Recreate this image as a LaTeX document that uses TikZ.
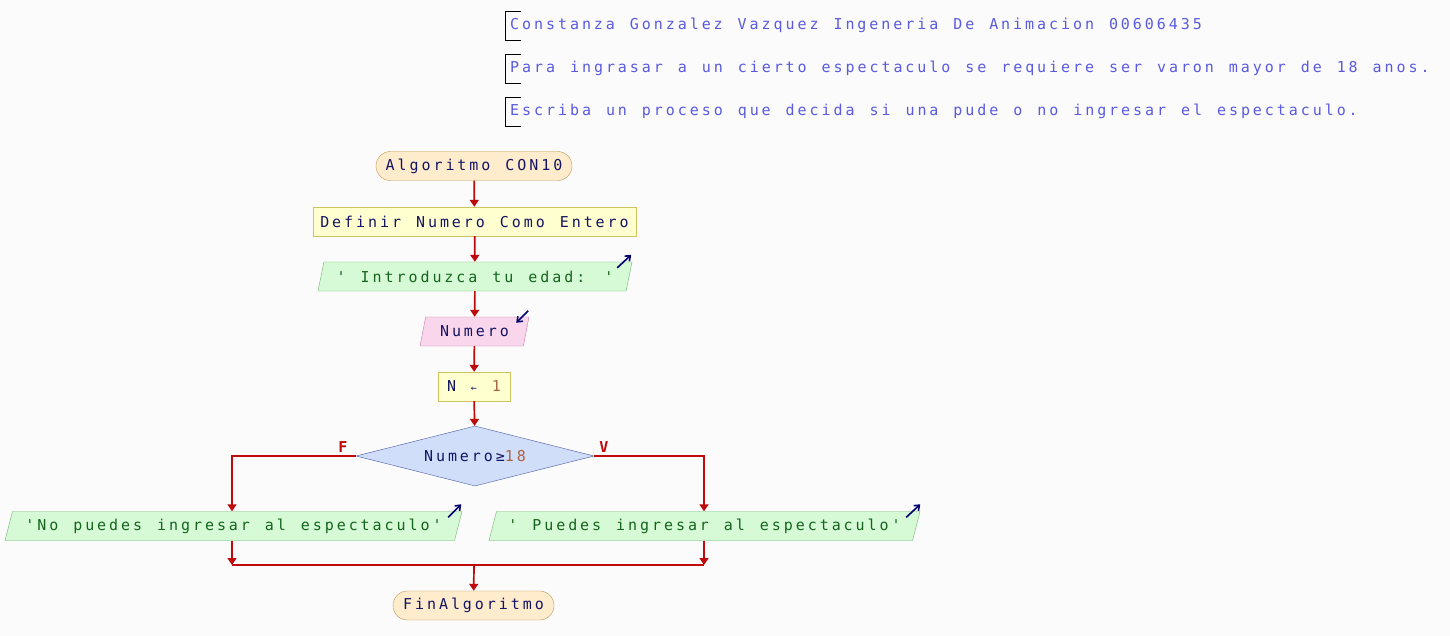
\documentclass[tikz,border=0pt]{standalone}
\usepackage{fontspec}
\usepackage{xcolor}
\usetikzlibrary{shapes.geometric, arrows.meta, positioning}
\newfontfamily\psefont{DejaVu Sans Mono}[LetterSpace=19.6, WordSpace=1.25]
\definecolor{psebg}{RGB}{251, 251, 251}
\definecolor{psered}{RGB}{190, 10, 10}
\definecolor{psenavy}{RGB}{20, 20, 100}
\definecolor{psecomment}{RGB}{90, 90, 225}
\definecolor{psebrown}{RGB}{170, 100, 70}
\definecolor{psegreentext}{RGB}{20, 100, 30}
\definecolor{pseicon}{RGB}{0, 0, 110}
\definecolor{termfill}{RGB}{255, 236, 204}
\definecolor{termdraw}{RGB}{190, 150, 80}
\definecolor{procfill}{RGB}{255, 255, 208}
\definecolor{procdraw}{RGB}{205, 195, 95}
\definecolor{outfill}{RGB}{214, 250, 214}
\definecolor{outdraw}{RGB}{110, 180, 110}
\definecolor{infill}{RGB}{250, 214, 236}
\definecolor{indraw}{RGB}{200, 120, 170}
\definecolor{condfill}{RGB}{208, 222, 250}
\definecolor{conddraw}{RGB}{70, 90, 160}

\begin{document}
\begin{tikzpicture}[
    x=1pt, y=-1pt,
    font=\psefont\fontsize{15}{17}\selectfont,
    terminal/.style={
        rectangle,
        rounded corners=14.5pt,
        draw=termdraw,
        fill=termfill,
        text=psenavy,
        minimum height=29pt,
        inner sep=0pt
    },
    process/.style={
        rectangle,
        draw=procdraw,
        fill=procfill,
        text=psenavy,
        minimum height=29pt,
        inner sep=0pt
    },
    iobox/.style={
        trapezium,
        trapezium left angle=63,
        trapezium right angle=117,
        trapezium stretches body=true,
        minimum height=29pt,
        inner sep=0pt
    },
    output/.style={
        iobox,
        draw=outdraw,
        fill=outfill,
        text=psegreentext
    },
    input/.style={
        iobox,
        draw=indraw,
        fill=infill,
        text=psenavy
    },
    decision/.style={
        diamond,
        aspect=3.97,
        draw=conddraw,
        fill=condfill,
        text=psenavy,
        minimum width=238pt,
        minimum height=60pt,
        inner sep=0pt
    },
    comment/.style={
        anchor=west,
        text=psecomment,
        inner sep=0pt
    },
    branch/.style={
        text=psered,
        font=\psefont\fontsize{15}{17}\selectfont\bfseries
    },
    flow/.style={
        draw=psered,
        line width=1.7pt,
        -{Triangle[length=7pt, width=9pt]}
    },
    link/.style={
        draw=psered,
        line width=1.7pt
    },
    ioicon/.style={
        draw=pseicon,
        line width=1.6pt,
        -{Straight Barb[length=4.5pt, width=7pt]}
    },
    bracket/.style={
        draw=black,
        line width=0.9pt
    }
]

% Background
\fill[psebg] (0,0) rectangle (1450,636);

% Comments
\node[comment] (cmtA) at (510,25) {Constanza Gonzalez Vazquez Ingeneria De Animacion 00606435};
\node[comment] (cmtB) at (510,68) {Para ingrasar a un cierto espectaculo se requiere ser varon mayor de 18 anos.};
\node[comment] (cmtC) at (510,111) {Escriba un proceso que decida si una pude o no ingresar el espectaculo.};
\foreach \y in {11, 54, 97} {
    \draw[bracket] (521,\y) -- (505,\y) -- (505,\y+29) -- (521,\y+29);
}

% Flowchart
\node[terminal, minimum width=196pt] (start) at (474,166) {Algoritmo CON10};
\node[process, minimum width=323pt] (defn) at (474.5,221.5) {Definir Numero Como Entero};
\node[output, minimum width=314pt] (intro) at (475,276.5) {' Introduzca tu edad: '};
\node[input, minimum width=109pt] (numin) at (474.5,331.5) {Numero};
\node[process, minimum width=72pt] (assign) at (474,386.5) {N \textcolor{psenavy}{\fontsize{10}{12}\selectfont ←} \textcolor{psebrown}{1}};
\node[decision] (cond) at (475,456) {Numero≥\textcolor{psebrown}{18}};

\node[branch] (flabel) at (343,447) {F};
\node[branch] (vlabel) at (604,447) {V};

\node[output, minimum width=457pt] (noout) at (233.5,526) {'No puedes ingresar al espectaculo'};
\node[output, minimum width=431pt] (yesout) at (704.5,526) {' Puedes ingresar al espectaculo'};

\node[terminal, minimum width=161pt] (fin) at (473.5,605.5) {FinAlgoritmo};

% Merge points
\coordinate (mergeL) at (232,565);
\coordinate (mergeR) at (704,565);
\coordinate (mergeC) at (474,565);

% Connectors
\draw[flow] (start) -- (defn);
\draw[flow] (defn) -- (intro);
\draw[flow] (intro) -- (numin);
\draw[flow] (numin) -- (assign);
\draw[flow] (assign) -- (cond);
\draw[flow] (cond.west) -| (mergeL |- noout.north);
\draw[flow] (cond.east) -| (mergeR |- yesout.north);
\draw[flow] (mergeL |- noout.south) -- (mergeL);
\draw[flow] (mergeR |- yesout.south) -- (mergeR);
\draw[link] (mergeL) -- (mergeR);
\draw[flow] (mergeC) -- (fin);

% Input/output marks
\draw[ioicon] ([shift={(-15,6)}]intro.top right corner) -- ++(14,-13);
\draw[ioicon] ([shift={(-1,-6)}]numin.top right corner) -- ++(-12,12);
\draw[ioicon] ([shift={(-14,6)}]noout.top right corner) -- ++(13,-13);
\draw[ioicon] ([shift={(-14,6)}]yesout.top right corner) -- ++(14,-13);

\end{tikzpicture}
\end{document}
